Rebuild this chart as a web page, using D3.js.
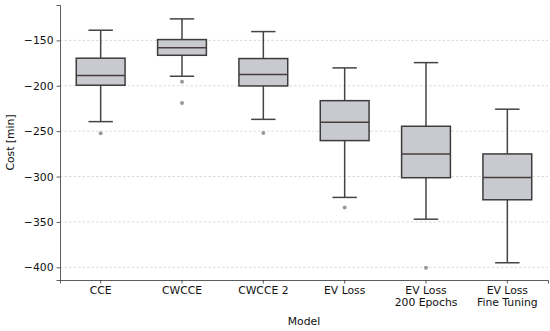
<!DOCTYPE html>
<html>
<head>
  <style type="text/css">
    body { margin: 0; background: #fff; }
    svg { font-family: "DejaVu Sans", sans-serif; }
  </style>
</head>
<body>
<svg id="vis" width="550" height="331"></svg>

<script src="https://cdnjs.cloudflare.com/ajax/libs/d3/7.8.5/d3.min.js"></script>
<script type="text/javascript">
  // data
  var models = ['CCE', 'CWCCE', 'CWCCE 2', 'EV Loss', 'EV Loss\n200 Epochs', 'EV Loss\nFine Tuning']
  var whiskLow  = [-239.5, -189.5, -237, -323, -347, -395]
  var q1        = [-199.4, -166.4, -200.2, -260.4, -301.3, -325.6]
  var medians   = [-188.8, -158, -187.7, -240.2, -275.1, -301]
  var q3        = [-169.6, -149.1, -170, -216.4, -244.6, -275.1]
  var whiskHigh = [-138.8, -126.3, -140.3, -180.3, -174.5, -225.8]
  var outliers  = [[-252.3], [-195.7, -218.9], [-252], [-334], [-400.4], []]
  var yTicks = [-150, -200, -250, -300, -350, -400]

  var svg = d3.select('#vis')
  var margin = { top: 5, right: 2, bottom: 51, left: 60 }
  var width = 550, height = 331
  var fs = 10.8

  var x = d3.scaleBand()
    .domain(models)
    .range([margin.left, width - margin.right])
    .paddingInner(0.4)
    .paddingOuter(0.2)

  var y = d3.scaleLinear()
    .domain([-414, -111])
    .range([height - margin.bottom, margin.top])

  // grid
  svg.append('g')
    .selectAll('line')
    .data(yTicks)
    .join('line')
      .attr('x1', margin.left)
      .attr('x2', width - margin.right)
      .attr('y1', function(d) { return y(d) })
      .attr('y2', function(d) { return y(d) })
      .attr('stroke', '#d0d0d0')
      .attr('stroke-width', 0.8)
      .attr('stroke-dasharray', '2.5,2')

  // axes
  var yAxis = svg.append('g')
    .attr('transform', 'translate(' + margin.left + ',0)')
    .call(d3.axisLeft(y).tickValues(yTicks).tickSize(3.5).tickPadding(3)
      .tickFormat(function(d) { return '\u2212' + Math.abs(d) }))
  var xAxis = svg.append('g')
    .attr('transform', 'translate(0,' + (height - margin.bottom) + ')')
    .call(d3.axisBottom(x).tickSize(3.5).tickPadding(3))

  ;[yAxis, xAxis].forEach(function(a) {
    a.select('.domain').attr('stroke', '#333').attr('stroke-width', 0.8)
    a.selectAll('.tick line').attr('stroke', '#333').attr('stroke-width', 0.8)
    a.selectAll('text').attr('font-size', fs).attr('fill', '#111')
      .attr('font-family', '"DejaVu Sans", sans-serif')
  })

  // multi-line x labels
  xAxis.selectAll('.tick text').each(function(d) {
    var t = d3.select(this)
    var parts = d.split('\n')
    t.text(null)
    parts.forEach(function(p, i) {
      t.append('tspan').attr('x', 0).attr('dy', i === 0 ? '0.71em' : '1.1em').text(p)
    })
  })

  // boxes
  var bw = x.bandwidth()
  var g = svg.append('g')
    .selectAll('g')
    .data(models)
    .join('g')
      .attr('transform', function(d) { return 'translate(' + (x(d) + bw / 2) + ',0)' })

  var stroke = '#444'
  g.append('line')
    .attr('y1', function(d, i) { return y(whiskHigh[i]) })
    .attr('y2', function(d, i) { return y(q3[i]) })
    .attr('stroke', stroke).attr('stroke-width', 1.5)
  g.append('line')
    .attr('y1', function(d, i) { return y(q1[i]) })
    .attr('y2', function(d, i) { return y(whiskLow[i]) })
    .attr('stroke', stroke).attr('stroke-width', 1.5)
  g.append('line')
    .attr('x1', -bw / 4).attr('x2', bw / 4)
    .attr('y1', function(d, i) { return y(whiskHigh[i]) })
    .attr('y2', function(d, i) { return y(whiskHigh[i]) })
    .attr('stroke', stroke).attr('stroke-width', 1.5)
  g.append('line')
    .attr('x1', -bw / 4).attr('x2', bw / 4)
    .attr('y1', function(d, i) { return y(whiskLow[i]) })
    .attr('y2', function(d, i) { return y(whiskLow[i]) })
    .attr('stroke', stroke).attr('stroke-width', 1.5)
  g.append('rect')
    .attr('x', -bw / 2).attr('width', bw)
    .attr('y', function(d, i) { return y(q3[i]) })
    .attr('height', function(d, i) { return y(q1[i]) - y(q3[i]) })
    .attr('fill', '#c8cacf')
    .attr('stroke', '#3c3c3c').attr('stroke-width', 1.5)
  g.append('line')
    .attr('x1', -bw / 2).attr('x2', bw / 2)
    .attr('y1', function(d, i) { return y(medians[i]) })
    .attr('y2', function(d, i) { return y(medians[i]) })
    .attr('stroke', '#4a3c3c').attr('stroke-width', 1.5)
  g.selectAll('circle')
    .data(function(d, i) { return outliers[i] })
    .join('circle')
      .attr('cx', 0)
      .attr('cy', function(d) { return y(d) })
      .attr('r', 2)
      .attr('fill', '#999')

  // labels
  svg.append('text')
    .attr('x', (margin.left + width - margin.right) / 2)
    .attr('y', 325)
    .attr('text-anchor', 'middle')
    .attr('font-size', fs)
    .attr('fill', '#111')
    .text('Model')
  svg.append('text')
    .attr('transform', 'translate(14,' + ((margin.top + height - margin.bottom) / 2) + ') rotate(-90)')
    .attr('text-anchor', 'middle')
    .attr('font-size', fs)
    .attr('fill', '#111')
    .text('Cost [min]')
</script>
</body>
</html>
